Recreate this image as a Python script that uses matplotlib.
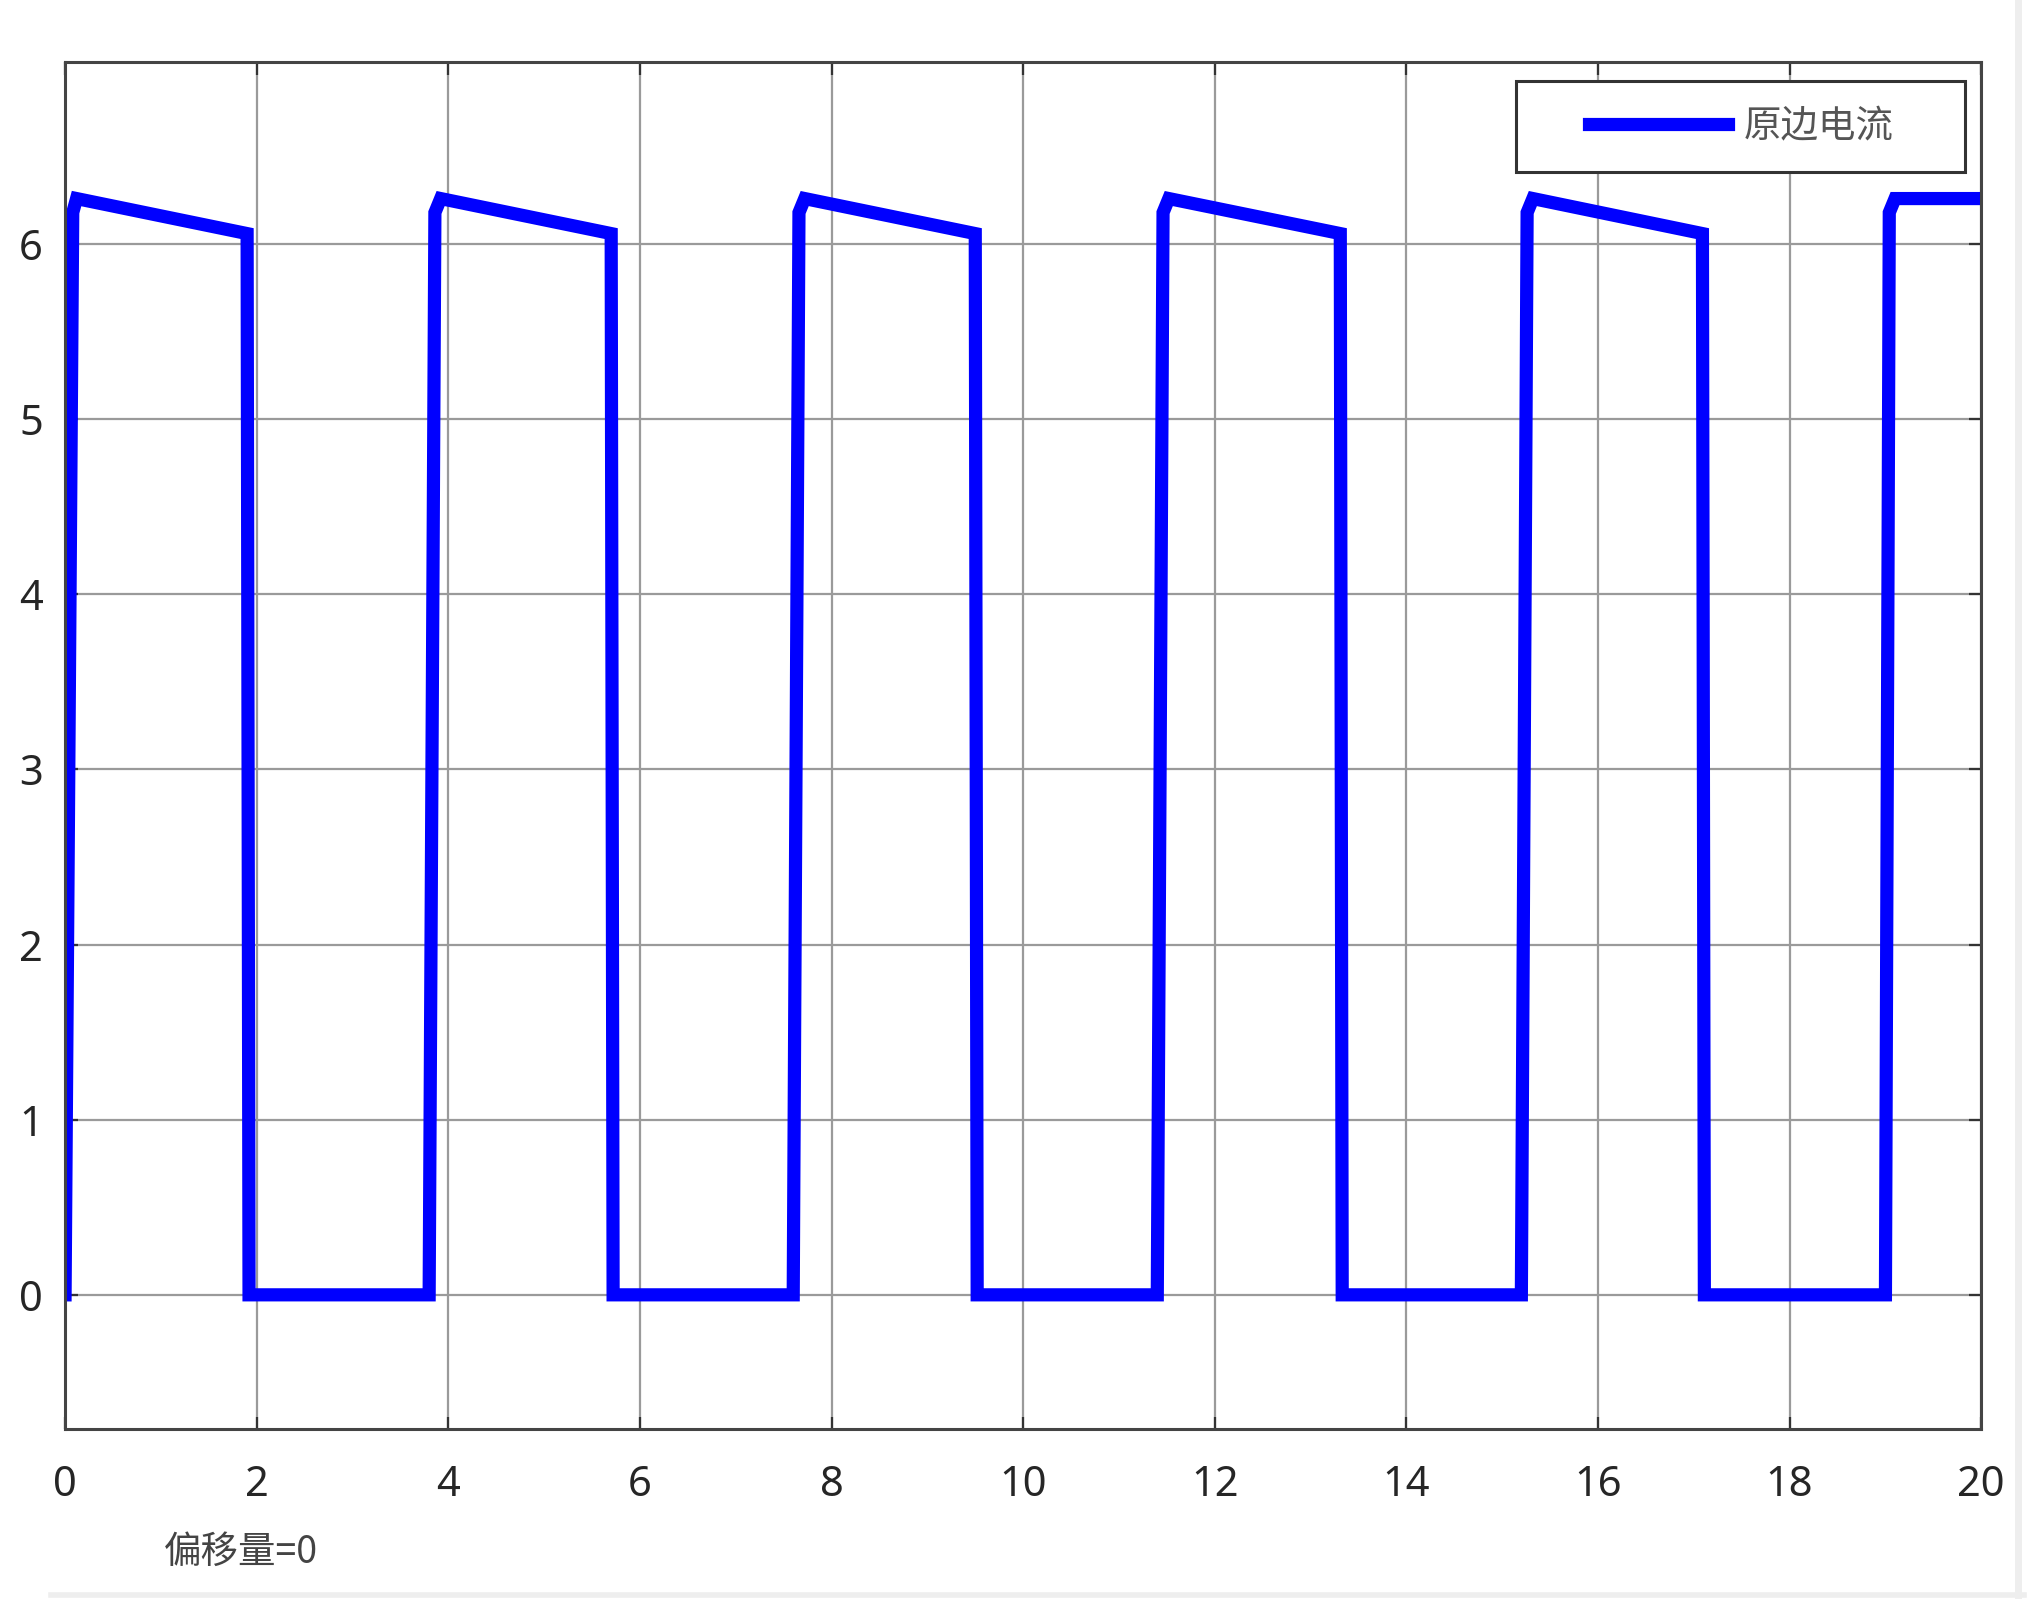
import matplotlib.pyplot as plt
from matplotlib.lines import Line2D
from matplotlib.legend_handler import HandlerLine2D

plt.rcParams['font.family'] = ['Noto Sans', 'Noto Sans CJK SC', 'DejaVu Sans']

# primary-side current waveform (time, current)
time = [0.00, 0.08, 0.12, 1.90, 1.92, 3.80, 3.86, 3.92, 5.70, 5.72,
        7.60, 7.66, 7.72, 9.50, 9.52, 11.40, 11.46, 11.52, 13.31, 13.33,
        15.20, 15.26, 15.32, 17.09, 17.11, 19.00, 19.04, 19.10, 20.00]
current = [0, 6.18, 6.26, 6.06, 0, 0, 6.18, 6.26, 6.06, 0,
           0, 6.18, 6.26, 6.06, 0, 0, 6.18, 6.26, 6.06, 0,
           0, 6.18, 6.26, 6.06, 0, 0, 6.18, 6.26, 6.26]

x_ticks = [0, 2, 4, 6, 8, 10, 12, 14, 16, 18, 20]
y_ticks = [0, 1, 2, 3, 4, 5, 6]
series_label = '原边电流'
note = '偏移量=0'

fig = plt.figure(figsize=(20.4, 16.22), dpi=100)
ax = fig.add_axes([0.0319, 0.119, 0.9393, 0.8428])

ax.plot(time, current, color='#0000ff', linewidth=9.5, label=series_label,
        solid_joinstyle='miter')

ax.set_xlim(0, 20)
ax.set_ylim(-0.766, 7.04)
ax.set_xticks(x_ticks)
ax.set_yticks(y_ticks)
ax.grid(True, color='#9a9a9a', linewidth=1.6)
ax.tick_params(direction='in', length=9, width=1.6, color='#333333',
               labelsize=30, labelcolor='#262626', top=True, right=True)
ax.tick_params(axis='x', pad=25)
ax.tick_params(axis='y', pad=16)
for s in ax.spines.values():
    s.set_color('#444444')
    s.set_linewidth(2.2)

# legend box spans a fixed area, handle inset like the MATLAB legend
leg = ax.legend(loc='upper right', bbox_to_anchor=(0.7573, 0.9195, 0.2343, 0.0666),
                mode='expand', borderaxespad=0, handlelength=4.97,
                handletextpad=0.42, borderpad=0.69, fancybox=False,
                framealpha=1, edgecolor='#333333',
                handler_map={Line2D: HandlerLine2D(xpad=1.24)},
                prop={'family': ['Noto Sans CJK SC'], 'size': 27})
leg.get_frame().set_linewidth(2.2)
for txt in leg.get_texts():
    txt.set_color('#555555')

fig.text(0.118, 0.0432, note, fontsize=27, color='#444444',
         ha='center', va='center', family=['Noto Sans CJK SC', 'DejaVu Sans'])

# faint screenshot border lines
fig.add_artist(Line2D([0.025, 0.992], [0.0166, 0.0166], color='#eeeeee', linewidth=4))
fig.add_artist(Line2D([0.989, 0.989], [0.0166, 1.0], color='#eeeeee', linewidth=5))

fig.savefig('out.png', dpi=100)
